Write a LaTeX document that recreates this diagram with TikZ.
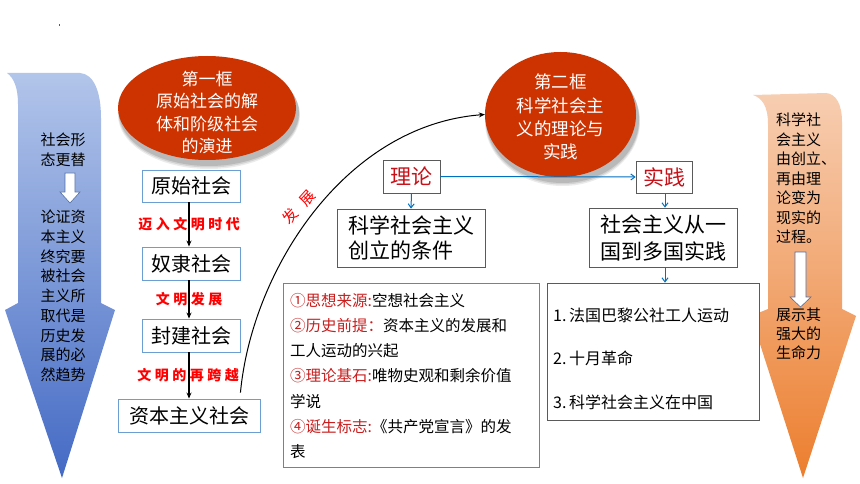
\documentclass[tikz,border=0pt]{standalone}
\usepackage{fontspec}
\setmainfont{Noto Sans CJK SC}
\usetikzlibrary{shapes.geometric,arrows.meta,calc}
\definecolor{ered}{RGB}{204,51,0}
\definecolor{lbTop}{RGB}{178,197,234}
\definecolor{lbBot}{RGB}{68,106,196}
\definecolor{obTop}{RGB}{247,206,178}
\definecolor{obBot}{RGB}{236,126,46}
\definecolor{lblue}{RGB}{108,158,210}
\definecolor{dgray}{RGB}{90,90,90}
\definecolor{mgray}{RGB}{128,128,128}
\definecolor{ablue}{RGB}{0,112,192}
\definecolor{dred}{RGB}{200,16,24}
\definecolor{wline}{RGB}{80,110,165}
\definecolor{lred}{RGB}{200,30,30}
\begin{document}
\begin{tikzpicture}[x=1pt,y=-1pt,
  lbox/.style={draw=lblue, line width=0.9pt, fill=white, inner sep=0pt,
    font=\fontsize{20}{24}\selectfont},
  gbox/.style={draw=dgray, line width=0.8pt, fill=white, inner sep=0pt},
  redlab/.style={text=red, font=\fontsize{14}{16}\selectfont\bfseries, inner sep=0pt},
  etext/.style={text=white, align=center, inner sep=0pt},
  bigtext/.style={align=left, inner sep=0pt},
  barr/.style={line width=1.2pt, -{Stealth[length=6pt,width=5pt]}},
  blarr/.style={ablue, line width=1pt, -{Straight Barb[length=4pt,width=6pt]}},
  whitearr/.style={fill=white, draw=wline, line width=0.6pt},
  eshape/.style={ellipse, fill=ered, inner sep=0pt}
]
\useasboundingbox (0,0) rectangle (860,484);
\fill[white] (0,0) rectangle (860,484);
\fill[dgray] (58.5,24) rectangle (59.5,26);

% left big arrow
\shade[top color=lbTop, bottom color=lbBot]
  (7,73) -- (80,73) .. controls (94,74) and (101,92) .. (101,118)
  -- (101,303) -- (115,310) -- (62,478) -- (5,310) -- (18,303)
  -- (18,104) .. controls (18,88) and (14,78) .. (7,73) -- cycle;
\node[bigtext, align=center, font=\fontsize{15}{20}\selectfont] (lt1) at (63,150) {社会形\\态更替};
\draw[whitearr] (65,173) -- (75,173) -- (75,192) -- (80,192) -- (70,203) -- (60,192) -- (65,192) -- cycle;
\node[bigtext, align=center, font=\fontsize{15}{19.75}\selectfont] (lt2) at (63,296)
  {论证资\\本主义\\终究要\\被社会\\主义所\\取代是\\历史发\\展的必\\然趋势};

% right big arrow
\shade[top color=obTop, bottom color=obBot]
  (753,95) -- (826,93) .. controls (836,94) and (842,104) .. (842,122)
  -- (842,309) -- (856,316) -- (803,478) -- (751,316) -- (768,309)
  -- (768,124) .. controls (768,106) and (762,98) .. (753,95) -- cycle;
\node[bigtext, anchor=west, font=\fontsize{15}{19.5}\selectfont] (rt1) at (776,178.5)
  {科学社\\会主义\\由创立、\\再由理\\论变为\\现实的\\过程。};
\draw[whitearr] (795,252) -- (806,252) -- (806,297) -- (811,297) -- (800.5,307) -- (790,297) -- (795,297) -- cycle;
\node[bigtext, anchor=west, font=\fontsize{15}{19}\selectfont] (rt2) at (776,334)
  {展示其\\强大的\\生命力};

% ellipses with soft shadows
\foreach \d/\o in {4/0.08,3/0.10,2/0.12}{
  \fill[black, opacity=\o] (209,111+\d) ellipse [x radius=89+\d/2, y radius=52+\d/2];
  \fill[black, opacity=\o] (562.5,117.5+\d) ellipse [x radius=75.5+\d/2, y radius=62.5+\d/2];
}
\node[eshape, minimum width=178pt, minimum height=104pt] (e1) at (207,108) {};
\node[etext, font=\fontsize{17}{22.3}\selectfont] (e1t) at (207,112.5)
  {第一框\\原始社会的解\\体和阶级社会\\的演进};
\node[eshape, minimum width=151pt, minimum height=125pt] (e2) at (560.5,114.5) {};
\node[etext, font=\fontsize{17.5}{23.3}\selectfont] (e2t) at (560.5,117)
  {第二框\\科学社会主\\义的理论与\\实践};

% left chain of boxes
\node[lbox, minimum width=98pt, minimum height=32pt] (b1) at (191,186) {原始社会};
\node[lbox, minimum width=98pt, minimum height=33pt] (b2) at (191,263.5) {奴隶社会};
\node[lbox, minimum width=98pt, minimum height=33pt] (b3) at (191,335.5) {封建社会};
\node[lbox, minimum width=142pt, minimum height=33pt] (b4) at (189,415.5) {资本主义社会};
\draw[barr] ([xshift=-2pt]b1.south) -- ([xshift=-2pt]b2.north);
\draw[barr] ([xshift=-2pt]b2.south) -- ([xshift=-2pt]b3.north);
\draw[barr] ([xshift=-2pt]b3.south) -- ([xshift=-2pt]b4.north -| b3.south);
\node[redlab] (l1) at ($([xshift=-2pt]b1.south)!0.5!([xshift=-2pt]b2.north)$)
  {迈\hskip3.5pt 入\hskip3.5pt 文\hskip3.5pt 明\hskip3.5pt 时\hskip3.5pt 代};
\node[redlab] (l2) at ($([xshift=-2pt]b2.south)!0.5!([xshift=-2pt]b3.north)$)
  {文\hskip3.5pt 明\hskip3.5pt 发\hskip3.5pt 展};
\node[redlab] (l3) at ($([xshift=-2pt]b3.south)!0.5!([xshift=-2pt]b4.north)$)
  {文\hskip3.5pt 明\hskip3.5pt 的\hskip3.5pt 再\hskip3.5pt 跨\hskip3.5pt 越};

% development curve
\draw[line width=1pt, -{Stealth[length=6pt,width=5pt]}]
  ([xshift=-20pt,yshift=6pt]b4.north east) .. controls (252,270) and (345,125) .. (e2.west);
\node[text=red, rotate=48, inner sep=0pt, font=\fontsize{15}{16}\selectfont] (dev) at (299,207)
  {发\hskip10pt 展};

% theory / practice
\node[gbox, minimum width=57pt, minimum height=33pt, text=dred,
  font=\fontsize{21}{24}\selectfont] (th) at (411.5,176.5) {理论};
\node[gbox, minimum width=56pt, minimum height=32pt, text=dred,
  font=\fontsize{21}{24}\selectfont] (pr) at (664,177) {实践};
\draw[blarr] (th.east) -- (pr.west);

\node[gbox, minimum width=148pt, minimum height=58pt, align=left,
  font=\fontsize{21}{25}\selectfont] (cond) at (411,238) {科学社会主义\\创立的条件};
\draw[blarr] (th.south) -- (cond.north);

\node[gbox, minimum width=148pt, minimum height=59pt, align=left,
  font=\fontsize{21}{27}\selectfont] (prac) at (663,237.5) {社会主义从一\\国到多国实践};
\draw[blarr] ([xshift=1pt]pr.south) -- ([xshift=1pt]pr.south |- prac.north);

% conditions list
\node[draw=mgray, line width=0.8pt, fill=white, minimum width=256pt, minimum height=184pt] (clist) at (411,375) {};
\node[bigtext, anchor=west, font=\fontsize{15.5}{25.3}\selectfont] (ctext) at (290,376)
  {\textcolor{lred}{①思想来源:}空想社会主义\\
   \textcolor{lred}{②历史前提：}资本主义的发展和\\
   工人运动的兴起\\
   \textcolor{lred}{③理论基石:}唯物史观和剩余价值\\
   学说\\
   \textcolor{lred}{④诞生标志:}《共产党宣言》的发\\
   表};

% practice list
\node[draw=dgray, line width=0.8pt, fill=white, minimum width=212pt, minimum height=137pt] (plist) at (653,351.5) {};
\draw[blarr] ([xshift=2pt]prac.south) -- ([xshift=2pt]prac.south |- plist.north);
\node[bigtext, anchor=west, font=\fontsize{16}{43.5}\selectfont] (ptext) at (553,358.5)
  {1.\,法国巴黎公社工人运动\\2.\,十月革命\\3.\,科学社会主义在中国};
\end{tikzpicture}
\end{document}
